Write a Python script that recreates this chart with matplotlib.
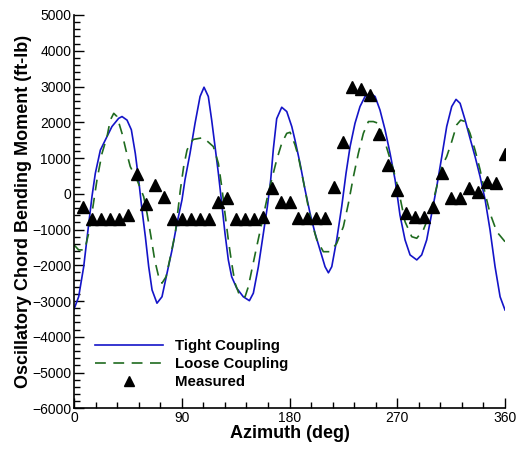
import numpy as np
import matplotlib
matplotlib.use("Agg")
import matplotlib.pyplot as plt
from matplotlib.ticker import MultipleLocator

plt.rcParams["font.family"] = ["Liberation Sans", "DejaVu Sans"]

# Tight coupling curve
tight_az = [0, 3.9, 8.1, 11.7, 15, 17.8, 22, 26.1, 31.7, 37.3, 40.1, 44.3, 47.9,
            51.2, 54, 56.8, 59.6, 62.4, 65.2, 69.3, 73.5, 77.7, 81.9, 86, 90.2,
            92.7, 96.9, 101.1, 105.3, 108.6, 112.2, 115, 117.8, 120.6, 123.4,
            126.1, 128.9, 131.7, 135.9, 141.4, 146.5, 149.8, 154, 158.2, 161.5,
            164.3, 166.5, 169.3, 173.5, 177.7, 181.9, 184.6, 188.8, 193, 197.2,
            201.3, 205.5, 209.7, 212.5, 215.3, 219.4, 223.6, 227.2, 230.6, 234.7,
            238.9, 243.1, 247.3, 251.5, 255.6, 259.8, 264, 268.2, 272.3, 276.5,
            280.7, 286.3, 290.4, 294.6, 298.8, 303, 307.2, 311.3, 315.5, 319.1,
            322.5, 326.7, 330.8, 335, 339.2, 343.4, 347.5, 351.7, 355.9, 360]
tight_m = [-3230, -2880, -2040, -1010, -80, 570, 1220, 1500, 1880, 2110, 2160,
           2060, 1790, 1130, 390, -450, -1200, -2040, -2690, -3060, -2880, -2220,
           -1570, -830, -170, 390, 1130, 1970, 2720, 2980, 2720, 2060, 1320, 570,
           -270, -1100, -1850, -2320, -2640, -2880, -2990, -2780, -2040, -1100,
           -360, 390, 1250, 2100, 2420, 2300, 1880, 1500, 850, 110, -550, -1100,
           -1570, -2040, -2210, -2040, -1290, -360, 570, 1320, 1970, 2440, 2720,
           2810, 2720, 2340, 1790, 1130, 390, -600, -1290, -1710, -1850, -1710,
           -1290, -545, 200, 1040, 1880, 2440, 2640, 2530, 2060, 1550, 1040, 480,
           -170, -1010, -2040, -2880, -3250]

# Loose coupling curve
loose_az = [0, 3.9, 8.9, 12.3, 15, 19.2, 23.4, 27.6, 30.3, 33.2, 35.9, 40.1,
            43.4, 47, 52.6, 58.2, 61, 64.3, 67.4, 70.7, 73.5, 76.9, 80.5, 84.6,
            88.8, 91.6, 94.4, 96.9, 99.7, 108, 116.4, 120.6, 123.4, 126.1, 128.9,
            131.7, 134.5, 138.7, 142.9, 145.6, 148.5, 152.6, 156.8, 161, 165.1,
            169.3, 173.5, 177.7, 180.5, 184.6, 187.4, 193, 197.2, 202.8, 208.3,
            213.9, 219.4, 225, 229.2, 233.4, 237.5, 241.7, 245.9, 250, 254.2,
            258.4, 262.6, 266.8, 271, 276.5, 282.1, 286.3, 291.8, 297.4, 303,
            307.2, 311.3, 315.5, 319.7, 323, 326.7, 330.8, 335, 339.2, 343.4,
            347.5, 353.1, 360]
loose_m = [-1430, -1570, -1570, -1100, -545, 390, 1130, 1600, 2060, 2250, 2160,
           1690, 1220, 760, 390, -80, -545, -1200, -1850, -2320, -2500, -2320,
           -1760, -1100, 100, 760, 1220, 1410, 1520, 1570, 1320, 850, 200, -545,
           -1290, -1940, -2500, -2880, -2880, -2600, -2130, -1480, -830, -170,
           390, 950, 1410, 1690, 1720, 1370, 1040, 110, -640, -1290, -1620, -1620,
           -1390, -920, -270, 480, 1130, 1690, 2020, 2020, 1970, 1600, 1130, 670,
           110, -780, -1200, -1245, -1010, -545, 200, 760, 1040, 1460, 1930, 2060,
           2020, 1690, 1220, 670, 10, -545, -1060, -1340]

# Measured data
meas_az = [7.5, 15, 22.5, 30, 37.5, 45, 52.5, 60, 67.5, 75, 82.5, 90, 97.5, 105,
           112.5, 120, 127.5, 135, 142.5, 150, 157.5, 165, 172.5, 180, 187.5, 195,
           202.5, 210, 217.5, 225, 232.5, 240, 247.5, 255, 262.5, 270, 277.5, 285,
           292.5, 300, 307.5, 315, 322.5, 330, 337.5, 345, 352.5, 360]
meas_m = [-380, -700, -700, -700, -700, -590, 550, -290, 250, -80, -700, -700,
          -700, -700, -700, -220, -110, -700, -700, -700, -640, 170, -220, -220,
          -680, -680, -680, -680, 190, 1450, 3000, 2940, 2750, 1680, 800, 100,
          -540, -660, -660, -360, 590, -110, -110, 150, 50, 340, 310, 1100]

fig = plt.figure(figsize=(5.19, 4.53), dpi=100)
ax = fig.add_axes([74 / 519, 1 - 408.3 / 453, 431 / 519, 393.3 / 453])

ax.plot(tight_az, tight_m, color="#1414c8", lw=1.2, label="Tight Coupling")
ax.plot(loose_az, loose_m, color="#1f6b1f", lw=1.2, dashes=(6.5, 4.5),
        label="Loose Coupling")
ax.plot(meas_az, meas_m, "^", color="black", ms=8.5, ls="none", label="Measured")

ax.set_xlim(0, 360)
ax.set_ylim(-6000, 5000)
ax.xaxis.set_major_locator(MultipleLocator(90))
ax.xaxis.set_minor_locator(MultipleLocator(18))
ax.yaxis.set_major_locator(MultipleLocator(1000))
ax.yaxis.set_minor_locator(MultipleLocator(200))
ax.tick_params(which="both", direction="in", width=1, labelsize=10,
               top=False, right=False, pad=2)
ax.tick_params(which="major", length=7)
ax.tick_params(which="minor", length=4)
ax.spines["top"].set_visible(False)
ax.spines["right"].set_visible(False)
ax.spines["left"].set_linewidth(1.2)
ax.spines["bottom"].set_linewidth(1.2)

ax.set_xlabel("Azimuth (deg)", fontsize=13, fontweight="bold", labelpad=0)
ax.set_ylabel("Oscillatory Chord Bending Moment (ft-lb)", fontsize=13,
              fontweight="bold", labelpad=0)

ax.legend(loc="upper left", bbox_to_anchor=(0.049, 0.175), frameon=False,
          prop={"weight": "bold", "size": 10.8}, handlelength=4.5,
          handletextpad=0.8, labelspacing=0.25, borderpad=0, borderaxespad=0,
          markerscale=0.9)

fig.savefig("out.png", dpi=100)
